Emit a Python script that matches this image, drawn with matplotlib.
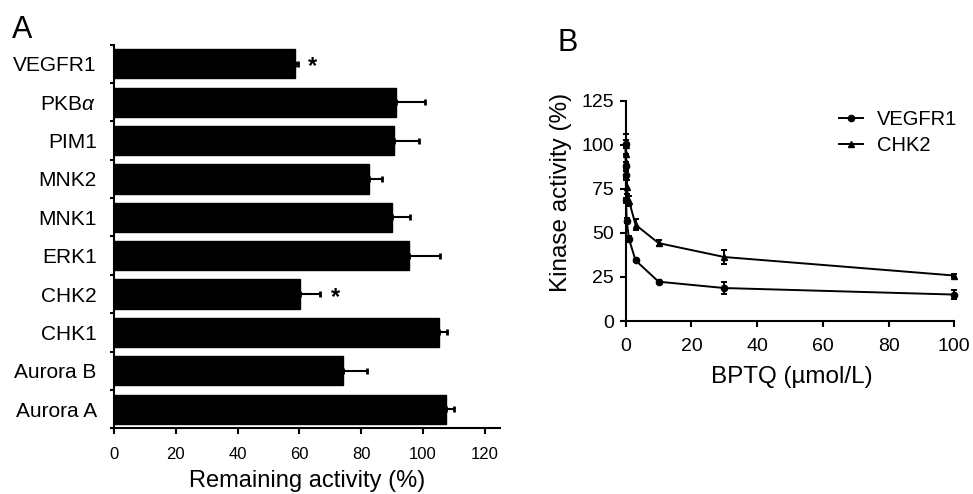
import matplotlib
matplotlib.use("Agg")
import matplotlib.pyplot as plt
from matplotlib.lines import Line2D
import numpy as np

plt.rcParams['font.family'] = ['Liberation Sans', 'DejaVu Sans']
plt.rcParams['mathtext.fontset'] = 'custom'
plt.rcParams['mathtext.rm'] = 'Liberation Sans'
plt.rcParams['mathtext.it'] = 'Liberation Sans:italic'

# ---- Panel A data (top to bottom) ----
kinases = ['VEGFR1', 'PKB$\\mathit{\\alpha}$', 'PIM1', 'MNK2', 'MNK1', 'ERK1',
           'CHK2', 'CHK1', 'Aurora B', 'Aurora A']
remaining = [58.5, 91.4, 90.7, 82.6, 90.0, 95.5, 60.2, 105.4, 74.2, 107.6]
remaining_err = [1.0, 9.2, 8.1, 4.1, 5.7, 10.1, 6.6, 2.4, 7.7, 2.4]
significant = ['VEGFR1', 'CHK2']
xticks_a = [0, 20, 40, 60, 80, 100, 120]

# ---- Panel B data ----
conc = [0.003, 0.01, 0.03, 0.1, 0.3, 1, 3, 10, 30, 100]
vegfr1 = [100.5, 88, 83, 68.5, 57, 46.5, 34.4, 22.3, 18.7, 15.0]
vegfr1_err = [2, 2, 2, 1.5, 1.5, 1.5, 1, 1, 3.6, 2.6]
chk2 = [100, 95, 90, 84, 76, 68.2, 54.6, 44.2, 36.3, 25.8]
chk2_err = [6, 5, 5, 4, 4, 3, 3, 1.8, 3.8, 0.8]
xticks_b = [0, 20, 40, 60, 80, 100]
yticks_b = [0, 25, 50, 75, 100, 125]

W, H = 973, 494
fig = plt.figure(figsize=(W / 100, H / 100), dpi=100)

def frac(x0, y0, x1, y1):
    return [x0 / W, 1 - y1 / H, (x1 - x0) / W, (y1 - y0) / H]

# ================= Panel A =================
axA = fig.add_axes(frac(114, 44.7, 500, 428.3))
n = len(kinases)
ypos = np.arange(n)[::-1]  # top item at highest position
axA.barh(ypos, remaining, height=0.76, color='black', edgecolor='black')
axA.errorbar(remaining, ypos, xerr=[np.zeros(n), remaining_err], fmt='none',
             ecolor='black', elinewidth=1.5, capsize=2.3, capthick=2)
for name, v, e, y in zip(kinases, remaining, remaining_err, ypos):
    if name in significant:
        axA.text(v + e + 4.8, y - 0.08, '*', ha='center', va='center',
                 fontsize=17, fontweight='bold')
axA.set_xlim(0, 125)
axA.set_ylim(-0.5, n - 0.5)
axA.set_xticks(xticks_a)
axA.set_xticklabels([str(t) for t in xticks_a], fontsize=12)
axA.set_yticks(np.arange(n + 1) - 0.5)
axA.set_yticklabels([])
axA.set_yticks(ypos, minor=True)
axA.set_yticklabels(kinases, minor=True, fontsize=15)
axA.tick_params(axis='y', which='minor', length=0, pad=12.5)
axA.tick_params(axis='y', which='major', length=3, width=1.5)
axA.tick_params(axis='x', length=4.5, width=1.5, pad=9)
for s in ['top', 'right']:
    axA.spines[s].set_visible(False)
for s in ['left', 'bottom']:
    axA.spines[s].set_linewidth(1.5)
axA.set_xlabel('Remaining activity (%)', fontsize=17, labelpad=5.5)

fig.text(12 / W, 1 - 38 / H, 'A', fontsize=22, ha='left', va='baseline')

# ================= Panel B =================
axB = fig.add_axes(frac(625.7, 100.7, 954.3, 321))
axB.errorbar(conc, vegfr1, yerr=vegfr1_err, color='black', lw=1.4,
             marker='o', markersize=4.5, capsize=2.5, elinewidth=1.4,
             capthick=1.4, clip_on=False)
axB.errorbar(conc, chk2, yerr=chk2_err, color='black', lw=1.4,
             marker='^', markersize=5, capsize=2.5, elinewidth=1.4,
             capthick=1.4, clip_on=False)
axB.set_xlim(0, 100)
axB.set_ylim(0, 125)
axB.set_xticks(xticks_b)
axB.set_yticks(yticks_b)
axB.tick_params(labelsize=14, length=4.5, width=1.5)
axB.tick_params(axis='x', pad=7.5)
axB.tick_params(axis='y', pad=4)
for s in ['top', 'right']:
    axB.spines[s].set_visible(False)
for s in ['left', 'bottom']:
    axB.spines[s].set_linewidth(1.5)
handles = [Line2D([], [], color='black', lw=1.4, marker='o', markersize=4.5),
           Line2D([], [], color='black', lw=1.4, marker='^', markersize=5)]
axB.legend(handles, ['VEGFR1', 'CHK2'], loc='upper left',
           bbox_to_anchor=(839 / W, 1 - 110 / H), bbox_transform=fig.transFigure,
           frameon=False, fontsize=14.5, handlelength=1.2, handletextpad=0.7,
           labelspacing=0.33, borderpad=0, borderaxespad=0)
fig.text(561 / W, 1 - 192 / H, 'Kinase activity (%)', fontsize=17.5,
         rotation=90, ha='center', va='center')
fig.text(792 / W, 1 - 377 / H, 'BPTQ (µmol/L)', fontsize=17.5,
         ha='center', va='center')
fig.text(557 / W, 1 - 51 / H, 'B', fontsize=22, ha='left', va='baseline')

fig.savefig('out.png', dpi=100)
